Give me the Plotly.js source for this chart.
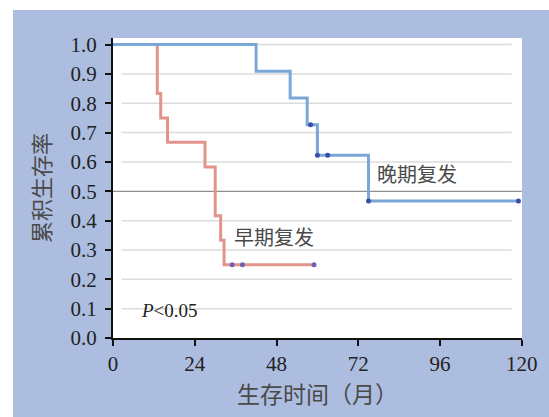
<!DOCTYPE html>
<html><head><meta charset="utf-8">
<script src="https://cdn.plot.ly/plotly-3.0.1.min.js"></script>
<style>
html,body{margin:0;padding:0;background:#ffffff;width:549px;height:417px;overflow:hidden;}
#chart{position:absolute;left:13px;top:10px;width:536px;height:407px;}
</style></head>
<body><div id="chart"></div>
<script>
// 晚期复发 (late recurrence)
const lateTimes = [0, 42, 52, 57, 60, 75, 119];
const lateSurv  = [1.0, 0.909, 0.818, 0.727, 0.623, 0.467, 0.467];
const lateCensorT = [58, 60, 63, 75, 119];
const lateCensorS = [0.727, 0.623, 0.623, 0.467, 0.467];
// 早期复发 (early recurrence)
const earlyTimes = [0, 13, 14, 16, 27, 30, 31.6, 32.6, 59];
const earlySurv  = [1.0, 0.833, 0.75, 0.667, 0.583, 0.417, 0.333, 0.25, 0.25];
const earlyCensorT = [35, 38, 59];
const earlyCensorS = [0.25, 0.25, 0.25];
// axes
const xTicks = [0, 24, 48, 72, 96, 120];
const yTicks = [0.0, 0.1, 0.2, 0.3, 0.4, 0.5, 0.6, 0.7, 0.8, 0.9, 1.0];
const yTickText = yTicks.map(v => v.toFixed(1));
const medianLine = 0.5;

const serif = "Liberation Serif, Times New Roman, serif";
const cjk = "Noto Sans CJK SC, sans-serif";

const traces = [
  {x: earlyTimes, y: earlySurv, mode: 'lines', line: {shape: 'hv', color: '#e2948b', width: 3}, hoverinfo: 'skip'},
  {x: earlyCensorT, y: earlyCensorS, mode: 'markers', marker: {color: '#6e60b8', size: 5}, hoverinfo: 'skip'},
  {x: lateTimes, y: lateSurv, mode: 'lines', line: {shape: 'hv', color: '#7aa7d8', width: 3}, hoverinfo: 'skip'},
  {x: lateCensorT, y: lateCensorS, mode: 'markers', marker: {color: '#3a50a8', size: 5}, hoverinfo: 'skip'}
];

const shapes = yTicks.filter(v => v > 0 && v !== medianLine).map(v => ({
  type: 'line', xref: 'x', yref: 'y', x0: 2.5, x1: 117, y0: v, y1: v,
  line: {color: '#dcdcdc', width: 1.5}, layer: 'below'
}));
shapes.push({type: 'line', xref: 'paper', yref: 'y', x0: 0, x1: 1, y0: medianLine, y1: medianLine,
  line: {color: '#8f8f8f', width: 1.2}, layer: 'below'});

const layout = {
  width: 536, height: 407,
  margin: {l: 100, r: 27, t: 28, b: 79},
  paper_bgcolor: '#adbde0',
  plot_bgcolor: '#ffffff',
  showlegend: false,
  xaxis: {
    range: [0, 120.05], tickvals: xTicks, ticktext: xTicks.map(String),
    showgrid: false, zeroline: false, showline: true, linecolor: '#111', linewidth: 2,
    ticks: 'outside', ticklen: 6, tickwidth: 2, tickcolor: '#111',
    tickfont: {family: serif, size: 21, color: '#222'},
    title: {text: '生存时间（月）', font: {family: cjk, size: 23, color: '#4a4a4a'}, standoff: 6},
    fixedrange: true
  },
  yaxis: {
    range: [0, 1.0225], tickvals: yTicks, ticktext: yTickText,
    showgrid: false, zeroline: false, showline: true, linecolor: '#111', linewidth: 2,
    ticks: 'outside', ticklen: 6, tickwidth: 2, tickcolor: '#111', ticklabelstandoff: 4,
    tickfont: {family: serif, size: 21, color: '#222'},
    title: {text: '累积生存率', font: {family: cjk, size: 22, color: '#4a4a4a'}, standoff: 14},
    fixedrange: true
  },
  shapes: shapes,
  annotations: [
    {xref: 'x', yref: 'y', x: 77, y: 0.559, xanchor: 'left', yanchor: 'middle', showarrow: false,
     text: '晚期复发', font: {family: cjk, size: 20, color: '#4a4a4a'}},
    {xref: 'x', yref: 'y', x: 35, y: 0.346, xanchor: 'left', yanchor: 'middle', showarrow: false,
     text: '早期复发', font: {family: cjk, size: 20, color: '#4a4a4a'}},
    {xref: 'x', yref: 'y', x: 7.6, y: 0.093, xanchor: 'left', yanchor: 'middle', showarrow: false,
     text: '<i>P</i>&lt;0.05', font: {family: serif, size: 19, color: '#222'}}
  ]
};

Plotly.newPlot('chart', traces, layout, {staticPlot: true, displayModeBar: false});
</script>
</body></html>
